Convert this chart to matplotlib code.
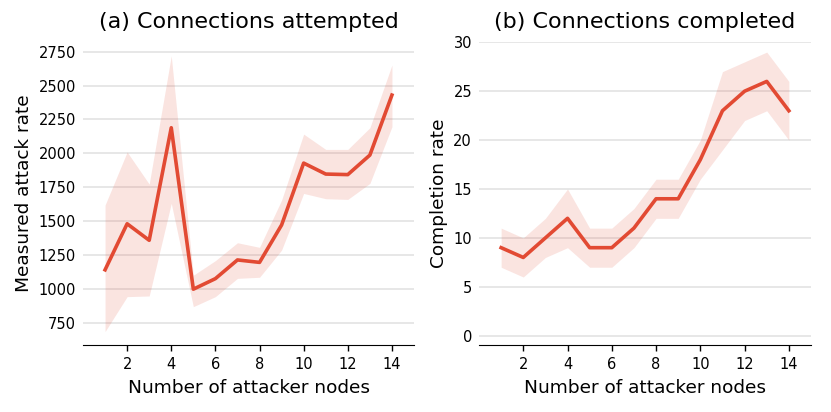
import numpy as np
from matplotlib import pyplot as plt

nodes = np.arange(1, 15)

attempted = [1140, 1480, 1358, 2189, 997, 1075, 1213, 1195, 1471, 1928, 1847, 1843, 1987, 2430]
attempted_lo = [684, 942, 947, 1631, 868, 942, 1077, 1085, 1286, 1704, 1665, 1660, 1778, 2196]
attempted_hi = [1618, 2010, 1773, 2720, 1100, 1208, 1340, 1306, 1655, 2142, 2029, 2029, 2189, 2652]

completed = [9, 8, 10, 12, 9, 9, 11, 14, 14, 18, 23, 25, 26, 23]
completed_lo = [7, 6, 8, 9, 7, 7, 9, 12, 12, 16, 19, 22, 23, 20]
completed_hi = [11, 10, 12, 15, 11, 11, 13, 16, 16, 20, 27, 28, 29, 26]

color = '#E24A33'


def panel(ax, y, lo, hi, title, ylabel, yticks, ylim):
    ax.fill_between(nodes, lo, hi, color=color, alpha=0.15, linewidth=0)
    ax.plot(nodes, y, color=color, linewidth=2.6)
    ax.set_xlim(0, 15)
    ax.set_ylim(*ylim)
    ax.set_xticks(range(2, 15, 2))
    ax.set_yticks(yticks)
    ax.grid(axis='y', color='#e5e5e5', linewidth=1.3)
    ax.set_axisbelow(True)
    for s in ['left', 'right', 'top']:
        ax.spines[s].set_visible(False)
    ax.spines['bottom'].set_color('black')
    ax.tick_params(axis='x', length=4.5, width=1, labelsize=10.5, pad=4)
    ax.tick_params(axis='y', length=0, labelsize=10.5, pad=5)
    ax.set_title(title, fontsize=16, pad=10)
    ax.set_xlabel('Number of attacker nodes', fontsize=13.3, labelpad=5)
    ax.set_ylabel(ylabel, fontsize=13.3)


fig = plt.figure(figsize=(8.31, 4.12), dpi=100)
ax1 = fig.add_axes([83 / 831, 1 - 345 / 412, 331 / 831, 303 / 412])
ax2 = fig.add_axes([479 / 831, 1 - 345 / 412, 332 / 831, 303 / 412])

panel(ax1, attempted, attempted_lo, attempted_hi, '(a) Connections attempted',
      'Measured attack rate', range(750, 2751, 250), (585, 2822))
panel(ax2, completed, completed_lo, completed_hi, '(b) Connections completed',
      'Completion rate', range(0, 31, 5), (-0.95, 30.03))

fig.savefig('out.png', dpi=100)
